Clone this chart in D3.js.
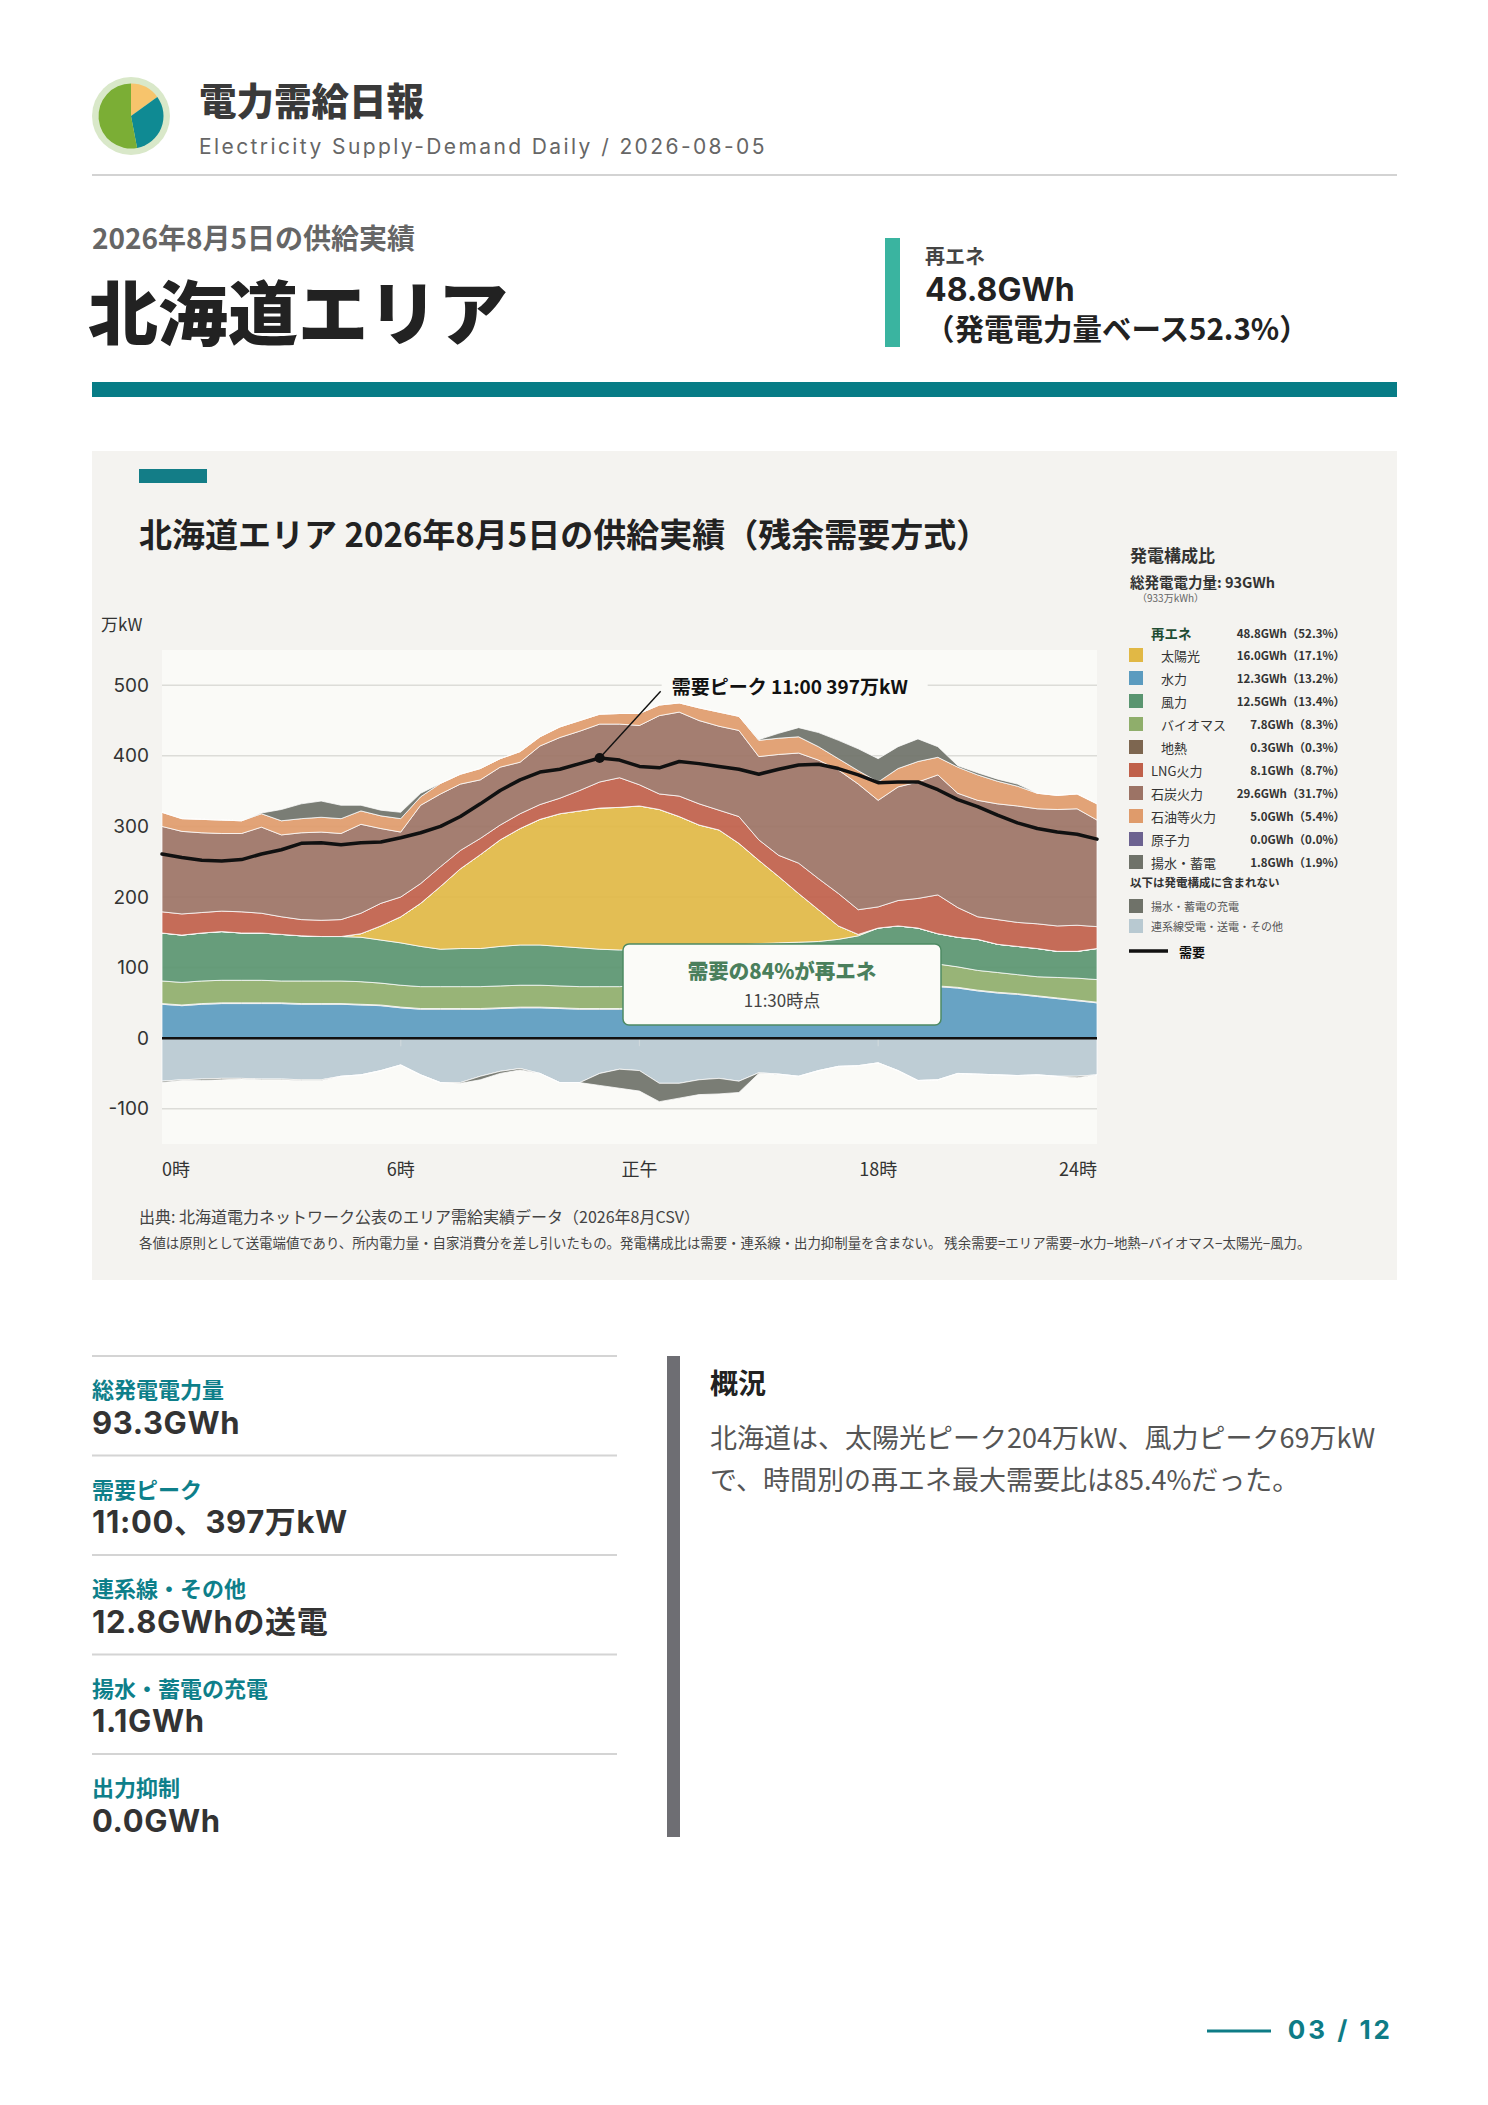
<!DOCTYPE html>
<html><head><meta charset="utf-8">
<script src="https://cdn.jsdelivr.net/npm/d3@7"></script>
<style>
html,body{margin:0;padding:0;background:#fff;}
svg{display:block;font-family:"Noto Sans CJK JP","Noto Sans",sans-serif;}
</style></head><body>
<svg id="page" width="1488" height="2105"></svg>
<script>
// ---------- data ----------
const slots = ["0:00","0:30","1:00","1:30","2:00","2:30","3:00","3:30","4:00","4:30","5:00","5:30",
"6:00","6:30","7:00","7:30","8:00","8:30","9:00","9:30","10:00","10:30","11:00","11:30",
"12:00","12:30","13:00","13:30","14:00","14:30","15:00","15:30","16:00","16:30","17:00","17:30",
"18:00","18:30","19:00","19:30","20:00","20:30","21:00","21:30","22:00","22:30","23:00","23:30"];
const hydro   = [48,46,48,49,49,49,49,48,48,48,47,46,43,41,41,41,41,42,43,43,42,41,41,41,42,43,44,46,48,50,53,56,59,62,65,68,70,72,73,73,71,67,64,62,59,56,53,50];
const geo     = [1,1,1,1,1,1,1,1,1,1,1,1,1,1,1,1,1,1,1,1,1,1,1,1,1,1,1,1,1,1,1,1,1,1,1,1,1,1,1,1,1,1,1,1,1,1,1,1];
const biomass = [32,32,32,32,32,32,31,32,32,32,32,31,31,31,31,31,31,31,31,31,31,31,31,31,32,32,32,32,32,32,32,32,32,32,32,32,32,32,32,31,29,28,28,27,27,29,31,32];
const wind    = [68,67,68,69,67,67,66,64,63,63,63,61,60,57,53,54,54,56,57,57,56,55,53,52,50,49,49,48,48,49,48,46,44,42,42,44,53,54,50,43,42,44,40,40,40,37,38,44];
const solar   = [0,0,0,0,0,0,0,0,0,0,5,20,37,61,89,113,133,151,165,178,188,194,200,202,204,199,188,175,166,144,118,94,69,45,19,2,0,0,0,0,0,0,0,0,0,0,0,0];
const nuclear = [0,0,0,0,0,0,0,0,0,0,0,0,0,0,0,0,0,0,0,0,0,0,0,0,0,0,0,0,0,0,0,0,0,0,0,0,0,0,0,0,0,0,0,0,0,0,0,0];
const lng     = [30,30,29,29,30,28,25,23,23,24,29,32,28,28,28,26,23,21,21,21,22,29,37,42,30,22,29,30,28,38,29,30,43,44,46,35,30,36,42,55,42,32,35,34,35,36,37,31];
const coal    = [121,117,113,110,111,122,116,123,125,122,126,106,92,111,103,94,83,82,73,83,86,84,82,76,84,111,119,118,119,122,118,143,156,168,175,178,151,161,165,170,162,165,164,165,163,165,165,151];
const oil     = [20,18,19,19,18,19,20,20,21,21,19,18,19,12,15,14,16,12,15,13,15,15,14,15,17,15,13,18,20,20,23,23,23,19,16,19,26,26,29,25,37,36,32,28,22,20,21,23];
const pumped  = [0,0,0,0,0,1,16,21,23,19,8,8,9,5,0,0,0,0,0,0,0,0,0,0,0,0,0,0,0,0,1,7,13,20,26,31,33,31,32,15,2,3,3,3,0,0,0,0];
const exportFlow = [-61,-59,-58,-57,-57,-58,-58,-59,-59,-54,-52,-46,-38,-52,-63,-63,-54,-47,-43,-50,-63,-63,-50,-44,-46,-64,-64,-59,-57,-61,-49,-51,-54,-46,-40,-39,-35,-46,-60,-59,-50,-51,-52,-53,-52,-54,-54,-52];
const charge  = [-2,-1,-2,-2,-1,-1,-1,-1,-1,0,0,0,0,0,0,-1,-5,-3,-2,0,0,0,-17,-27,-29,-26,-21,-21,-22,-16,-1,0,0,0,0,0,0,0,0,0,0,0,0,0,0,0,-2,0];
const demand  = [261,256,252,251,253,261,267,276,277,274,277,278,284,291,300,314,332,351,366,377,381,389,397,394,385,383,392,389,385,381,374,381,387,388,382,373,362,363,363,352,338,328,316,305,297,292,289,282];

const yTicks = [-100,0,100,200,300,400,500];
const xTickSlots = ["0:00","6:00","12:00","18:00","END"];
const xTickLabels = ["0時","6時","正午","18時","24時"];

const mixKeys  = ["solar","hydro","wind","biomass","geo","lng","coal","oil","nuclear","pumped"];
const mixNames = ["太陽光","水力","風力","バイオマス","地熱","LNG火力","石炭火力","石油等火力","原子力","揚水・蓄電"];
const mixGWh   = [16.0,12.3,12.5,7.8,0.3,8.1,29.6,5.0,0.0,1.8];
const mixPct   = [17.1,13.2,13.4,8.3,0.3,8.7,31.7,5.4,0.0,1.9];
const mixRenew = [true,true,true,true,true,false,false,false,false,false];
const extraKeys  = ["charge","export"];
const extraNames = ["揚水・蓄電の充電","連系線受電・送電・その他"];

const statLabels = ["総発電電力量","需要ピーク","連系線・その他","揚水・蓄電の充電","出力抑制"];
const statValues = ["93.3GWh","11:00、397万kW","12.8GWhの送電","1.1GWh","0.0GWh"];
const summaryLines = ["北海道は、太陽光ピーク204万kW、風力ピーク69万kW","で、時間別の再エネ最大需要比は85.4%だった。"];
const logoShares = [15,32,53];

const colors = {
  hydro:"#5b9bbf", geo:"#7d6650", biomass:"#8fae6b", wind:"#5a9570", solar:"#e1b845",
  nuclear:"#6c6290", lng:"#c0604a", coal:"#9c7365", oil:"#df9b6b", pumped:"#6f7269",
  charge:"#6f7269", export:"#b8c9d1"
};

// ---------- page ----------
const svg = d3.select("#page");
function T(g, x, y, s, size, weight, fill, opts={}) {
  const t = g.append("text").attr("x", x).attr("y", y).attr("dominant-baseline","central")
    .attr("font-size", size).attr("font-weight", weight).attr("fill", fill).text(s);
  if (opts.anchor) t.attr("text-anchor", opts.anchor);
  if (opts.family) t.attr("font-family", opts.family);
  if (opts.ls) t.attr("letter-spacing", opts.ls);
  return t;
}
const LAT = '"Inter","Noto Sans CJK JP",sans-serif';

// header logo
const logo = svg.append("g").attr("transform","translate(131,116)");
logo.append("circle").attr("r",39).attr("fill","#d9e8c9");
const pie = d3.pie().sort(null)(logoShares);
const logoCols = ["#f7c46c","#0f8a93","#7bae35"];
logo.selectAll("path").data(pie).join("path")
  .attr("d", d3.arc().innerRadius(0).outerRadius(32.5)).attr("fill",(d,i)=>logoCols[i]);

T(svg, 199, 98, "電力需給日報", 37.5, 800, "#3a3a3a");
T(svg, 199, 146, "Electricity Supply-Demand Daily / 2026-08-05", 21, 400, "#666", {family:LAT, ls:2.4});
svg.append("rect").attr("x",92).attr("y",174).attr("width",1305).attr("height",2).attr("fill","#d3d3d3");

T(svg, 92, 237, "2026年8月5日の供給実績", 28, 700, "#666");
T(svg, 88, 309, "北海道エリア", 70, 900, "#222");
svg.append("rect").attr("x",885).attr("y",238).attr("width",15).attr("height",109).attr("fill","#3ab4a0");
T(svg, 925, 255, "再エネ", 20, 700, "#444");
T(svg, 925, 289, "48.8GWh", 32, 700, "#222", {family:LAT});
T(svg, 925, 327, "（発電電力量ベース52.3%）", 29.5, 700, "#222");
svg.append("rect").attr("x",92).attr("y",382).attr("width",1305).attr("height",15).attr("fill","#077c86");

// chart panel
svg.append("rect").attr("x",92).attr("y",451).attr("width",1305).attr("height",829).attr("fill","#f4f3f0");
svg.append("rect").attr("x",139).attr("y",469).attr("width",68).attr("height",14).attr("fill","#137d87");
T(svg, 139, 533, "北海道エリア 2026年8月5日の供給実績（残余需要方式）", 33, 700, "#222");
T(svg, 101, 623, "万kW", 17, 400, "#333");

const x = d3.scalePoint().domain(slots).range([162,1097]);
const y = d3.scaleLinear().domain([-150,550]).range([1144,650]);
const [px0, px1] = x.range();
svg.append("rect").attr("x",px0).attr("y",y(550)).attr("width",px1-px0).attr("height",y(-150)-y(550)).attr("fill","#fafaf7");

const plot = svg.append("g");
plot.selectAll("line.grid").data(yTicks.filter(v=>v!==0)).join("line").attr("class","grid")
  .attr("x1",px0).attr("x2",px1).attr("y1",d=>y(d)).attr("y2",d=>y(d))
  .attr("stroke","#dcdcd8").attr("stroke-width",1.5);

// stack
const series = {hydro, geo, biomass, wind, solar, nuclear, lng, coal, oil, pumped, export: exportFlow, charge};
const keys = ["hydro","geo","biomass","wind","solar","nuclear","lng","coal","oil","pumped","export","charge"];
const negKeys = new Set(["export","charge"]);
const rows = slots.map((s,i)=>{ const r={slot:s}; keys.forEach(k=>r[k]=series[k][i]); return r; });
function signedOffset(ser, order) {
  const n = ser[0].length;
  for (let j=0;j<n;j++){
    let p=0, q=0;
    for (const i of order){
      const d = ser[i][j]; const v = d[1]-d[0];
      if (negKeys.has(ser[i].key)) { d[1]=q; d[0]=q+v; q+=v; }
      else { d[0]=p; d[1]=p+v; p+=v; }
    }
  }
}
const stacked = d3.stack().keys(keys).value((d,k)=>d[k]).offset(signedOffset)(rows);
const area = d3.area().x(d=>x(d.data.slot)).y0(d=>y(d[0])).y1(d=>y(d[1]));
plot.selectAll("path.layer").data(stacked).join("path").attr("class","layer")
  .attr("d", area).attr("fill", d=>colors[d.key]).attr("fill-opacity",0.92)
  .attr("stroke","#ffffff").attr("stroke-opacity",0.75).attr("stroke-width",1);

// small ticks
plot.selectAll("line.xt").data(["6:00","12:00","18:00"]).join("line").attr("class","xt")
  .attr("x1",d=>x(d)).attr("x2",d=>x(d)).attr("y1",y(0)).attr("y2",y(0)+8)
  .attr("stroke","#cfd8dc").attr("stroke-width",1.2);
// zero line
plot.append("line").attr("x1",px0).attr("x2",px1).attr("y1",y(0)).attr("y2",y(0))
  .attr("stroke","#111").attr("stroke-width",2.5);

// demand line
const line = d3.line().x((d,i)=>x(slots[i])).y(d=>y(d));
plot.append("path").attr("d", line(demand)).attr("fill","none").attr("stroke","#111")
  .attr("stroke-width",3.5).attr("stroke-linejoin","round").attr("stroke-linecap","round");

// peak annotation
const pi = d3.maxIndex(demand);
const pkx = x(slots[pi]), pky = y(demand[pi]);
const lblY = y(500);
plot.append("line").attr("x1",pkx).attr("y1",pky).attr("x2",pkx+61).attr("y2",lblY+6)
  .attr("stroke","#111").attr("stroke-width",1.4);
plot.append("rect").attr("x",pkx+62).attr("y",lblY-14).attr("width",266).attr("height",28).attr("fill","#fafaf7");
T(plot, pkx+72, lblY, `需要ピーク ${slots[pi]} ${demand[pi]}万kW`, 19, 700, "#111");
plot.append("circle").attr("cx",pkx).attr("cy",pky).attr("r",5).attr("fill","#111");

// renewable share box
const box = plot.append("g");
box.append("rect").attr("x",623).attr("y",944).attr("width",318).attr("height",81).attr("rx",6)
  .attr("fill","#fbfbf8").attr("stroke","#4e8a63").attr("stroke-width",1.5);
T(box, 782, 970, "需要の84%が再エネ", 20.5, 800, "#4a7f5c", {anchor:"middle"});
T(box, 782, 999, "11:30時点", 17, 400, "#444", {anchor:"middle"});

// axes labels
svg.selectAll("text.yl").data(yTicks).join("text").attr("class","yl")
  .attr("x",149).attr("y",d=>y(d)).attr("dominant-baseline","central").attr("text-anchor","end")
  .attr("font-size",19).attr("fill","#333").attr("font-family",LAT).text(d=>d);
xTickSlots.forEach((s,i)=>{
  const xx = s==="END" ? px1 : x(s);
  const anchor = i===0 ? "start" : (s==="END" ? "end" : "middle");
  T(svg, xx, 1168, xTickLabels[i], 18, 400, "#333", {anchor});
});

T(svg, 139, 1216, "出典: 北海道電力ネットワーク公表のエリア需給実績データ（2026年8月CSV）", 16, 400, "#444");
T(svg, 139, 1242, "各値は原則として送電端値であり、所内電力量・自家消費分を差し引いたもの。発電構成比は需要・連系線・出力抑制量を含まない。 残余需要=エリア需要−水力−地熱−バイオマス−太陽光−風力。", 13.4, 400, "#444");

// legend
const lg = svg.append("g");
T(lg, 1130, 554, "発電構成比", 17, 700, "#333");
T(lg, 1130, 581, "総発電電力量: 93GWh", 14.5, 700, "#333");
T(lg, 1137, 597, "（933万kWh）", 10, 400, "#666");
T(lg, 1151, 633, "再エネ", 13.5, 700, "#1f4d33");
T(lg, 1345, 633, "48.8GWh（52.3%）", 11.5, 700, "#333", {anchor:"end"});
mixKeys.forEach((k,i)=>{
  const yy = 655 + i*23;
  lg.append("rect").attr("x",1129).attr("y",yy-7).attr("width",14).attr("height",14).attr("fill",colors[k]);
  T(lg, mixRenew[i]?1161:1151, yy, mixNames[i], 13, 400, "#333");
  T(lg, 1345, yy, `${mixGWh[i].toFixed(1)}GWh（${mixPct[i].toFixed(1)}%）`, 11.5, 700, "#333", {anchor:"end"});
});
T(lg, 1130, 882, "以下は発電構成に含まれない", 11.5, 700, "#333");
extraKeys.forEach((k,i)=>{
  const yy = 906 + i*20;
  lg.append("rect").attr("x",1129).attr("y",yy-7).attr("width",14).attr("height",14).attr("fill",colors[k]);
  T(lg, 1151, yy, extraNames[i], 11, 400, "#555");
});
lg.append("line").attr("x1",1129).attr("x2",1168).attr("y1",951).attr("y2",951).attr("stroke","#111").attr("stroke-width",3.5);
T(lg, 1179, 951, "需要", 13, 700, "#111");

// stats
statLabels.forEach((l,i)=>{
  const y0 = 1356 + i*99.5;
  svg.append("rect").attr("x",92).attr("y",y0-1).attr("width",525).attr("height",2).attr("fill","#d4d4d4");
  T(svg, 92, y0+32, l, 22, 700, "#0e7f8a");
  T(svg, 92, y0+66, statValues[i], 31, 700, "#333", {family:LAT, ls:0.6});
});
svg.append("rect").attr("x",667).attr("y",1356).attr("width",13).attr("height",481).attr("fill","#6e6e73");
T(svg, 710, 1382, "概況", 28, 700, "#222");
summaryLines.forEach((s,i)=> T(svg, 710, 1436 + i*42, s, 27, 400, "#555"));

// footer
svg.append("line").attr("x1",1207).attr("x2",1271).attr("y1",2031).attr("y2",2031).attr("stroke","#0e7c86").attr("stroke-width",3);
T(svg, 1393, 2029, "03 / 12", 26, 700, "#0e7c86", {anchor:"end", family:LAT, ls:3});
</script>
</body></html>
